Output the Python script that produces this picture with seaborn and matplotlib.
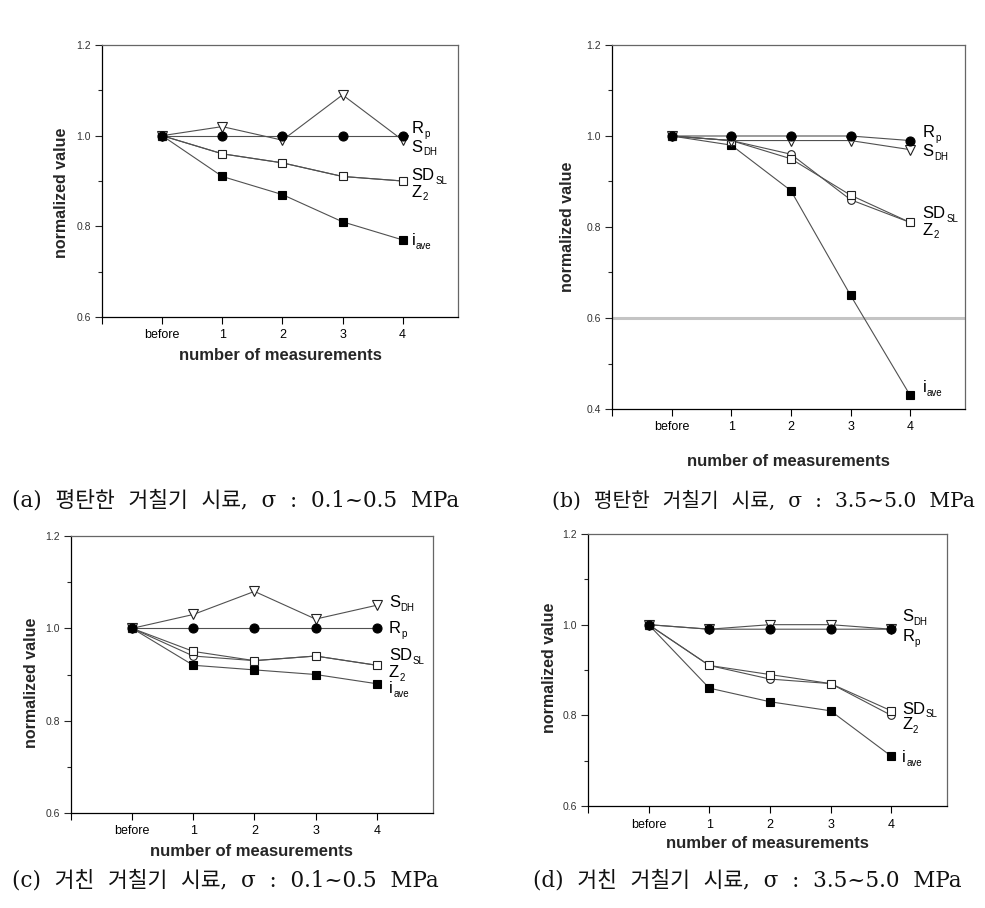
import matplotlib
matplotlib.use('Agg')
import matplotlib.pyplot as plt
from matplotlib.ticker import MultipleLocator, FixedLocator, FormatStrFormatter
import seaborn as sns
import numpy as np

sns.set_theme(style='ticks')
plt.rcParams['font.family'] = ['Liberation Sans', 'Noto Sans CJK KR', 'DejaVu Sans']

# ---------------- data ----------------
x_labels = ['before', '1', '2', '3', '4']
series_names = ['i_ave', 'Z2', 'SD_SL', 'S_DH', 'Rp']

# (a) flat roughness, 0.1~0.5 MPa
a_iave = [1.00, 0.91, 0.87, 0.81, 0.77]
a_Z2 = [1.00, 0.96, 0.94, 0.91, 0.90]
a_SDSL = [1.00, 0.96, 0.94, 0.91, 0.90]
a_SDH = [1.00, 1.02, 0.99, 1.09, 0.99]
a_Rp = [1.00, 1.00, 1.00, 1.00, 1.00]

# (b) flat roughness, 3.5~5.0 MPa
b_iave = [1.00, 0.98, 0.88, 0.65, 0.43]
b_Z2 = [1.00, 0.99, 0.96, 0.86, 0.81]
b_SDSL = [1.00, 0.99, 0.95, 0.87, 0.81]
b_SDH = [1.00, 0.99, 0.99, 0.99, 0.97]
b_Rp = [1.00, 1.00, 1.00, 1.00, 0.99]

# (c) rough roughness, 0.1~0.5 MPa
c_iave = [1.00, 0.92, 0.91, 0.90, 0.88]
c_Z2 = [1.00, 0.94, 0.93, 0.94, 0.92]
c_SDSL = [1.00, 0.95, 0.93, 0.94, 0.92]
c_SDH = [1.00, 1.03, 1.08, 1.02, 1.05]
c_Rp = [1.00, 1.00, 1.00, 1.00, 1.00]

# (d) rough roughness, 3.5~5.0 MPa
d_iave = [1.00, 0.86, 0.83, 0.81, 0.71]
d_Z2 = [1.00, 0.91, 0.88, 0.87, 0.80]
d_SDSL = [1.00, 0.91, 0.89, 0.87, 0.81]
d_SDH = [1.00, 0.99, 1.00, 1.00, 0.99]
d_Rp = [1.00, 0.99, 0.99, 0.99, 0.99]

# series label texts (main letters, subscript) and their baseline y (data units)
label_main = {'Rp': 'R', 'S_DH': 'S', 'SD_SL': 'SD', 'Z2': 'Z', 'i_ave': 'i'}
label_sub = {'Rp': 'p', 'S_DH': 'DH', 'SD_SL': 'SL', 'Z2': '2', 'i_ave': 'ave'}
a_label_y = {'Rp': 1.006, 'S_DH': 0.965, 'SD_SL': 0.902, 'Z2': 0.865, 'i_ave': 0.758}
b_label_y = {'Rp': 0.998, 'S_DH': 0.956, 'SD_SL': 0.820, 'Z2': 0.783, 'i_ave': 0.437}
c_label_y = {'S_DH': 1.046, 'Rp': 0.990, 'SD_SL': 0.931, 'Z2': 0.894, 'i_ave': 0.860}
d_label_y = {'S_DH': 1.008, 'Rp': 0.964, 'SD_SL': 0.804, 'Z2': 0.770, 'i_ave': 0.697}

captions = [
    '(a)  평탄한  거칠기  시료,  σ  :  0.1~0.5  MPa',
    '(b)  평탄한  거칠기  시료,  σ  :  3.5~5.0  MPa',
    '(c)  거친  거칠기  시료,  σ  :  0.1~0.5  MPa',
    '(d)  거친  거칠기  시료,  σ  :  3.5~5.0  MPa',
]

# ---------------- styling ----------------
W, H = 985, 908
DPI = 100
fig = plt.figure(figsize=(W / DPI, H / DPI), dpi=DPI)
fig.patch.set_facecolor('white')
renderer = fig.canvas.get_renderer()

def px_rect(l, r, t, b):
    return [l / W, 1 - b / H, (r - l) / W, (b - t) / H]

LINE = '#505050'
styles = {
    'i_ave': dict(marker='s', mfc='black', mec='black', ms=5.5),
    'Z2': dict(marker='o', mfc='white', mec='#222222', ms=5.5),
    'SD_SL': dict(marker='s', mfc='white', mec='#222222', ms=5.5),
    'S_DH': dict(marker='v', mfc='white', mec='#222222', ms=7),
    'Rp': dict(marker='o', mfc='black', mec='black', ms=6.5),
}

def series_label(ax, x, y, name):
    t = ax.text(x, y, label_main[name], fontsize=12, ha='left', va='baseline',
                color='black')
    w_pt = t.get_window_extent(renderer=renderer).width * 72 / DPI
    ax.annotate(label_sub[name], xy=(x, y), xycoords='data',
                xytext=(w_pt + 0.4, -2.6), textcoords='offset points',
                fontsize=7, ha='left', va='baseline', color='black')

def draw(rect, data, ylim, label_y, label_x, hline=None):
    ax = fig.add_axes(rect)
    xpos = np.arange(len(x_labels))
    if hline is not None:
        ax.axhline(hline, color='#c4c4c4', lw=2.2, zorder=1)
    for name in series_names:
        st = styles[name]
        sns.lineplot(x=xpos, y=data[name], ax=ax, color=LINE, lw=0.8,
                     marker=st['marker'], markersize=st['ms'],
                     markerfacecolor=st['mfc'], markeredgecolor=st['mec'],
                     markeredgewidth=0.8, zorder=3)
    ax.set_xlim(-1, 4.92)
    ax.set_ylim(*ylim)
    for name, yv in label_y.items():
        series_label(ax, label_x, yv, name)
    ax.xaxis.set_major_locator(FixedLocator([-1] + list(xpos)))
    ax.set_xticklabels([''] + x_labels)
    ax.yaxis.set_major_locator(MultipleLocator(0.2))
    ax.yaxis.set_minor_locator(MultipleLocator(0.1))
    ax.yaxis.set_major_formatter(FormatStrFormatter('%.1f'))
    ax.tick_params(axis='x', direction='out', length=5, width=0.8, labelsize=9,
                   pad=4, colors='black')
    ax.tick_params(axis='y', which='major', direction='out', length=5, width=0.8,
                   labelsize=7.5, pad=3, labelcolor='#333333')
    ax.tick_params(axis='y', which='minor', direction='out', length=3, width=0.8)
    for s in ['left', 'bottom']:
        ax.spines[s].set_color('black')
        ax.spines[s].set_linewidth(0.9)
    for s in ['top', 'right']:
        ax.spines[s].set_visible(True)
        ax.spines[s].set_color('#666666')
        ax.spines[s].set_linewidth(0.9)
    ax.set_xlabel('')
    ax.set_ylabel('')
    ax.grid(False)
    return ax

def pack(iave, z2, sdsl, sdh, rp):
    return {'i_ave': iave, 'Z2': z2, 'SD_SL': sdsl, 'S_DH': sdh, 'Rp': rp}

draw(px_rect(102, 458, 45, 317), pack(a_iave, a_Z2, a_SDSL, a_SDH, a_Rp),
     (0.6, 1.2), a_label_y, 4.15)
draw(px_rect(612, 965, 45, 409), pack(b_iave, b_Z2, b_SDSL, b_SDH, b_Rp),
     (0.4, 1.2), b_label_y, 4.21, hline=0.6)
draw(px_rect(71, 433, 536, 813), pack(c_iave, c_Z2, c_SDSL, c_SDH, c_Rp),
     (0.6, 1.2), c_label_y, 4.20)
draw(px_rect(588, 947, 534, 806), pack(d_iave, d_Z2, d_SDSL, d_SDH, d_Rp),
     (0.6, 1.2), d_label_y, 4.18)

# axis titles (pixel placed)
def ftext(x, y, s, **kw):
    fig.text(x / W, 1 - y / H, s, **kw)

ylab = dict(fontsize=11.5, fontweight='bold', rotation=90, ha='center', va='center')
xlab = dict(fontsize=12, fontweight='bold', ha='center', va='center')
ftext(62, 193, 'normalized value', **ylab)
ftext(568, 227, 'normalized value', **ylab)
ftext(32, 683, 'normalized value', **ylab)
ftext(550, 668, 'normalized value', **ylab)
ftext(280, 355, 'number of measurements', **xlab)
ftext(788, 462, 'number of measurements', **xlab)
ftext(251, 851, 'number of measurements', **xlab)
ftext(767, 843, 'number of measurements', **xlab)

cap = dict(ha='left', va='center', color='#111111',
           family=['DejaVu Serif', 'Noto Sans CJK KR'])
ftext(12, 501, captions[0], fontsize=15.5, **cap)
ftext(552, 501, captions[1], fontsize=14.6, **cap)
ftext(12, 880, captions[2], fontsize=15.5, **cap)
ftext(533, 880, captions[3], fontsize=15.5, **cap)

fig.savefig('out.png', dpi=DPI, facecolor='white')
